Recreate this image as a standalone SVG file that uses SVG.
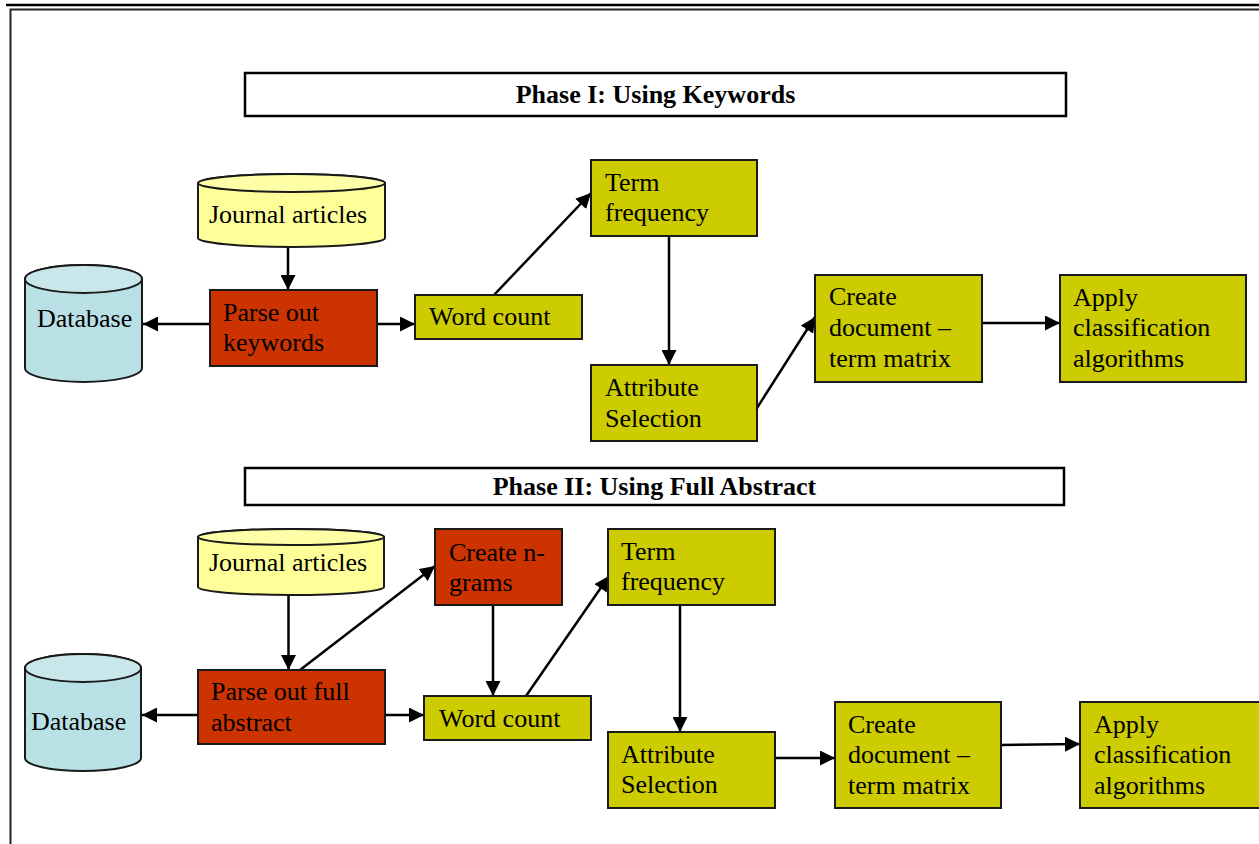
<svg xmlns="http://www.w3.org/2000/svg" width="1259" height="844" viewBox="0 0 1259 844">
<style>
text{font-family:"Liberation Serif","Times New Roman",serif;font-size:26px;fill:#000}
.title{font-weight:bold;text-anchor:middle}
.box{stroke:#1a1a1a;stroke-width:2}
.olive{fill:#CCCC00}
.red{fill:#CC3300}
.yel{fill:#FFFF99}
.yelTop{fill:#FFFFA8}
.blue{fill:#B9E0E4}
.blueTop{fill:#C9E7EA}
.hdr{fill:#fff;stroke:#000;stroke-width:2.5}
.con{stroke:#000;stroke-width:2.5;fill:none;marker-end:url(#ah)}
</style>
<defs>
<marker id="ah" markerUnits="userSpaceOnUse" markerWidth="15" markerHeight="15" refX="15" refY="7.5" orient="auto">
<path d="M0,0 L15,7.5 L0,15 Z" fill="#000"/>
</marker>
</defs>
<rect x="0" y="0" width="1259" height="844" fill="#fff"/>
<g id="frame">
<line x1="6" y1="5" x2="1259" y2="5" stroke="#000" stroke-width="2.5"/>
<path d="M10.5,844 V9.5 H1259" fill="none" stroke="#222" stroke-width="2"/>
</g>

<g id="phase1-header">
<rect class="hdr" x="245" y="73" width="821" height="43"/>
<text class="title" x="655.5" y="103">Phase I: Using Keywords</text>
</g>
<g id="phase2-header">
<rect class="hdr" x="245" y="468" width="819" height="37"/>
<text class="title" x="654.5" y="495">Phase II: Using Full Abstract</text>
</g>

<g id="connectors">
<line class="con" x1="288" y1="247" x2="288" y2="290"/>
<line class="con" x1="210" y1="324" x2="143" y2="324"/>
<line class="con" x1="377" y1="324" x2="415" y2="324"/>
<line class="con" x1="494" y1="295" x2="591" y2="193"/>
<line class="con" x1="669" y1="236" x2="669" y2="365"/>
<line class="con" x1="757" y1="408" x2="815" y2="317"/>
<line class="con" x1="982" y1="323" x2="1060" y2="323"/>

<line class="con" x1="288.5" y1="595" x2="288.5" y2="670"/>
<line class="con" x1="300" y1="670" x2="435" y2="566"/>
<line class="con" x1="198" y1="715" x2="142" y2="715"/>
<line class="con" x1="385" y1="715" x2="424" y2="715"/>
<line class="con" x1="493" y1="605" x2="493" y2="696"/>
<line class="con" x1="526" y1="696" x2="609" y2="576"/>
<line class="con" x1="680" y1="605" x2="680" y2="732"/>
<line class="con" x1="775" y1="758" x2="835" y2="758"/>
<line class="con" x1="1001" y1="745" x2="1080" y2="744"/>
</g>

<g id="p1-journal">
<path class="box yel" d="M198,183 A93.5,9 0 0 1 385,183 V238 A93.5,9 0 0 1 198,238 Z"/>
<ellipse class="box yelTop" cx="291.5" cy="183" rx="93.5" ry="9"/>
<text x="209" y="223">Journal articles</text>
</g>
<g id="p1-database">
<path class="box blue" d="M25,279 A58.5,14 0 0 1 142,279 V368 A58.5,14 0 0 1 25,368 Z"/>
<ellipse class="box blueTop" cx="83.5" cy="279" rx="58.5" ry="14"/>
<text x="37" y="327">Database</text>
</g>
<g id="p1-parse">
<rect class="box red" x="210" y="290" width="167" height="76"/>
<text x="223" y="321">Parse out</text>
<text x="223" y="351">keywords</text>
</g>
<g id="p1-wordcount">
<rect class="box olive" x="415" y="295" width="167" height="44"/>
<text x="429" y="325">Word count</text>
</g>
<g id="p1-termfreq">
<rect class="box olive" x="591" y="160" width="166" height="76"/>
<text x="605" y="191">Term</text>
<text x="605" y="221">frequency</text>
</g>
<g id="p1-attr">
<rect class="box olive" x="591" y="365" width="166" height="76"/>
<text x="605" y="396">Attribute</text>
<text x="605" y="427">Selection</text>
</g>
<g id="p1-matrix">
<rect class="box olive" x="815" y="275" width="167" height="107"/>
<text x="829" y="305">Create</text>
<text x="829" y="336">document –</text>
<text x="829" y="367">term matrix</text>
</g>
<g id="p1-apply">
<rect class="box olive" x="1060" y="275" width="186" height="107"/>
<text x="1073" y="306">Apply</text>
<text x="1073" y="336">classification</text>
<text x="1073" y="367">algorithms</text>
</g>

<g id="p2-journal">
<path class="box yel" d="M198,537 A93,8 0 0 1 384,537 V587 A93,8 0 0 1 198,587 Z"/>
<ellipse class="box yelTop" cx="291" cy="537" rx="93" ry="8"/>
<text x="209" y="571">Journal articles</text>
</g>
<g id="p2-database">
<path class="box blue" d="M25,668 A58,14 0 0 1 141,668 V758 A58,13 0 0 1 25,758 Z"/>
<ellipse class="box blueTop" cx="83" cy="668" rx="58" ry="14"/>
<text x="31" y="730">Database</text>
</g>
<g id="p2-ngrams">
<rect class="box red" x="435" y="529" width="127" height="76"/>
<text x="449" y="561">Create n-</text>
<text x="449" y="591">grams</text>
</g>
<g id="p2-parse">
<rect class="box red" x="198" y="670" width="187" height="74"/>
<text x="211" y="700">Parse out full</text>
<text x="211" y="731">abstract</text>
</g>
<g id="p2-wordcount">
<rect class="box olive" x="424" y="696" width="167" height="44"/>
<text x="439" y="727">Word count</text>
</g>
<g id="p2-termfreq">
<rect class="box olive" x="608" y="529" width="167" height="76"/>
<text x="621" y="560">Term</text>
<text x="621" y="590">frequency</text>
</g>
<g id="p2-attr">
<rect class="box olive" x="608" y="732" width="167" height="76"/>
<text x="621" y="763">Attribute</text>
<text x="621" y="793">Selection</text>
</g>
<g id="p2-matrix">
<rect class="box olive" x="835" y="702" width="166" height="106"/>
<text x="848" y="733">Create</text>
<text x="848" y="763">document –</text>
<text x="848" y="794">term matrix</text>
</g>
<g id="p2-apply">
<rect class="box olive" x="1080" y="702" width="190" height="106"/>
<text x="1094" y="733">Apply</text>
<text x="1094" y="763">classification</text>
<text x="1094" y="794">algorithms</text>
</g>
</svg>
